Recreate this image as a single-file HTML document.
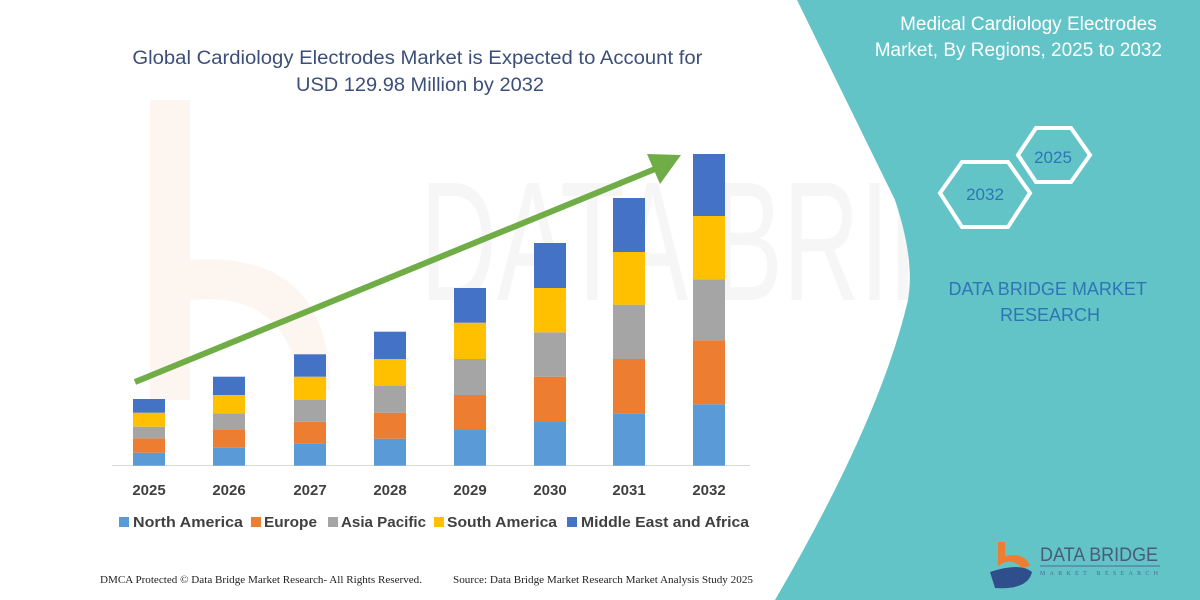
<!DOCTYPE html>
<html><head><meta charset="utf-8"><style>
html,body{margin:0;padding:0;background:#fff;}
svg{display:block;}
</style></head><body>
<svg width="1200" height="600" viewBox="0 0 1200 600" xmlns="http://www.w3.org/2000/svg">
<rect width="1200" height="600" fill="#fff"/>
<!-- faint watermark -->
<path d="M150 100 L190 100 L190 260 Q330 250 330 390 L300 390 Q290 290 190 300 L190 400 L150 400Z" fill="#fdf3ec" opacity="0.8"/>
<text x="420" y="300" font-family="Liberation Sans, sans-serif" font-size="170" fill="#f6f6f6" textLength="700" lengthAdjust="spacingAndGlyphs">DATA BRIDGE</text>
<!-- teal panel -->
<path d="M797 0 L1200 0 L1200 600 L775 600 Q880 420 908 300 Q915 260 895 200 Z" fill="#63c4c8"/>
<text font-family="Liberation Sans, sans-serif" font-size="19" font-weight="500" fill="#ffffff" text-anchor="end">
<tspan x="1162" y="30">Medical Cardiology Electrodes</tspan>
<tspan x="1162" y="56">Market, By Regions, 2025 to 2032</tspan></text>
<polygon points="1036,128 1071,128 1090,155 1071,182 1036,182 1018,155" fill="none" stroke="#fff" stroke-width="4"/>
<polygon points="962,162 1008,162 1030,193 1008,227 962,227 940,193" fill="none" stroke="#fff" stroke-width="4"/>
<text x="1053" y="163" font-family="Liberation Sans, sans-serif" font-size="17" fill="#2e75b6" text-anchor="middle">2025</text>
<text x="985" y="200" font-family="Liberation Sans, sans-serif" font-size="17" fill="#2e75b6" text-anchor="middle">2032</text>
<text font-family="Liberation Sans, sans-serif" font-size="18" fill="#2e75b6" text-anchor="middle">
<tspan x="1050" y="295">DATA BRIDGE MARKET</tspan>
<tspan x="1050" y="321">RESEARCH</tspan></text>
<!-- logo -->
<path d="M998 542 L1005 542 L1005 556 Q1025 552 1030 566 L1022 568 Q1015 560 1005 562 L998 566Z" fill="#ed7d31"/>
<path d="M990 572 Q1020 562 1032 572 Q1028 590 995 588 Z" fill="#2f4e8c"/>
<text x="1040" y="561" font-family="Liberation Sans, sans-serif" font-size="19" fill="#4a5a7a" textLength="118" lengthAdjust="spacingAndGlyphs">DATA BRIDGE</text>
<line x1="1040" y1="566" x2="1160" y2="566" stroke="#4a6a9a" stroke-width="1"/>
<text x="1040" y="575" font-family="Liberation Serif, serif" font-size="6" fill="#4a6a9a" textLength="118" lengthAdjust="spacing">MARKET RESEARCH</text>
<!-- title -->
<text font-family="Liberation Sans, sans-serif" font-size="19" fill="#3b4f7a" text-anchor="middle">
<tspan x="420" y="64" textLength="570" lengthAdjust="spacingAndGlyphs">Global Cardiology Electrodes Market is Expected to Account for</tspan>
<tspan x="420" y="91" textLength="248" lengthAdjust="spacingAndGlyphs">USD 129.98 Million by 2032</tspan></text>
<!-- baseline -->
<line x1="112" y1="465.5" x2="750" y2="465.5" stroke="#d9d9d9" stroke-width="1"/>
<g id="bars">
<rect x="133" y="452.7" width="32" height="13" fill="#5b9bd5"/><rect x="133" y="438.3" width="32" height="14.4" fill="#ed7d31"/><rect x="133" y="426.7" width="32" height="11.6" fill="#a5a5a5"/><rect x="133" y="412.7" width="32" height="14" fill="#ffc000"/><rect x="133" y="399" width="32" height="13.7" fill="#4472c4"/>
<rect x="213" y="447.7" width="32" height="18" fill="#5b9bd5"/><rect x="213" y="429.3" width="32" height="18.4" fill="#ed7d31"/><rect x="213" y="413.3" width="32" height="16" fill="#a5a5a5"/><rect x="213" y="395" width="32" height="18.3" fill="#ffc000"/><rect x="213" y="376.7" width="32" height="18.3" fill="#4472c4"/>
<rect x="294" y="443.3" width="32" height="22.4" fill="#5b9bd5"/><rect x="294" y="421.7" width="32" height="21.6" fill="#ed7d31"/><rect x="294" y="400" width="32" height="21.7" fill="#a5a5a5"/><rect x="294" y="376.7" width="32" height="23.3" fill="#ffc000"/><rect x="294" y="354.3" width="32" height="22.4" fill="#4472c4"/>
<rect x="374" y="438.7" width="32" height="27" fill="#5b9bd5"/><rect x="374" y="412.7" width="32" height="26" fill="#ed7d31"/><rect x="374" y="386" width="32" height="26.7" fill="#a5a5a5"/><rect x="374" y="359" width="32" height="27" fill="#ffc000"/><rect x="374" y="331.7" width="32" height="27.3" fill="#4472c4"/>
<rect x="454" y="430" width="32" height="35.7" fill="#5b9bd5"/><rect x="454" y="395" width="32" height="35" fill="#ed7d31"/><rect x="454" y="359" width="32" height="36" fill="#a5a5a5"/><rect x="454" y="322.7" width="32" height="36.3" fill="#ffc000"/><rect x="454" y="288" width="32" height="34.7" fill="#4472c4"/>
<rect x="534" y="422" width="32" height="43.7" fill="#5b9bd5"/><rect x="534" y="376.7" width="32" height="45.3" fill="#ed7d31"/><rect x="534" y="332.3" width="32" height="44.4" fill="#a5a5a5"/><rect x="534" y="288" width="32" height="44.3" fill="#ffc000"/><rect x="534" y="243" width="32" height="45" fill="#4472c4"/>
<rect x="613" y="413.3" width="32" height="52.4" fill="#5b9bd5"/><rect x="613" y="359" width="32" height="54.3" fill="#ed7d31"/><rect x="613" y="304.7" width="32" height="54.3" fill="#a5a5a5"/><rect x="613" y="252" width="32" height="52.7" fill="#ffc000"/><rect x="613" y="198" width="32" height="54" fill="#4472c4"/>
<rect x="693" y="404.3" width="32" height="61.4" fill="#5b9bd5"/><rect x="693" y="340.3" width="32" height="64" fill="#ed7d31"/><rect x="693" y="279.3" width="32" height="61" fill="#a5a5a5"/><rect x="693" y="216" width="32" height="63.3" fill="#ffc000"/><rect x="693" y="154" width="32" height="62" fill="#4472c4"/>
</g>
<!-- arrow -->
<line x1="135" y1="382" x2="655" y2="169" stroke="#70ad47" stroke-width="6"/>
<polygon points="681,155 647,154 660,184" fill="#70ad47"/>
<!-- year labels -->
<g font-family="Liberation Sans, sans-serif" font-size="15" font-weight="bold" fill="#404040" text-anchor="middle">
<text x="149" y="495">2025</text><text x="229" y="495">2026</text><text x="310" y="495">2027</text><text x="390" y="495">2028</text><text x="470" y="495">2029</text><text x="550" y="495">2030</text><text x="629" y="495">2031</text><text x="709" y="495">2032</text>
</g>
<!-- legend -->
<g font-family="Liberation Sans, sans-serif" font-size="14.5" font-weight="bold" fill="#404040">
<rect x="119" y="517" width="10" height="10" fill="#5b9bd5"/><text x="133" y="527" textLength="110" lengthAdjust="spacingAndGlyphs">North America</text>
<rect x="251" y="517" width="10" height="10" fill="#ed7d31"/><text x="264" y="527" textLength="53" lengthAdjust="spacingAndGlyphs">Europe</text>
<rect x="328" y="517" width="10" height="10" fill="#a5a5a5"/><text x="341" y="527" textLength="85" lengthAdjust="spacingAndGlyphs">Asia Pacific</text>
<rect x="434" y="517" width="10" height="10" fill="#ffc000"/><text x="447" y="527" textLength="110" lengthAdjust="spacingAndGlyphs">South America</text>
<rect x="567" y="517" width="10" height="10" fill="#4472c4"/><text x="581" y="527" textLength="168" lengthAdjust="spacingAndGlyphs">Middle East and Africa</text>
</g>
<!-- footer -->
<g font-family="Liberation Serif, serif" font-size="10" fill="#222">
<text x="100" y="583" textLength="322" lengthAdjust="spacingAndGlyphs">DMCA Protected © Data Bridge Market Research-  All Rights Reserved.</text>
<text x="453" y="583" textLength="300" lengthAdjust="spacingAndGlyphs">Source: Data Bridge Market Research  Market Analysis Study 2025</text>
</g>
</svg>
</body></html>
